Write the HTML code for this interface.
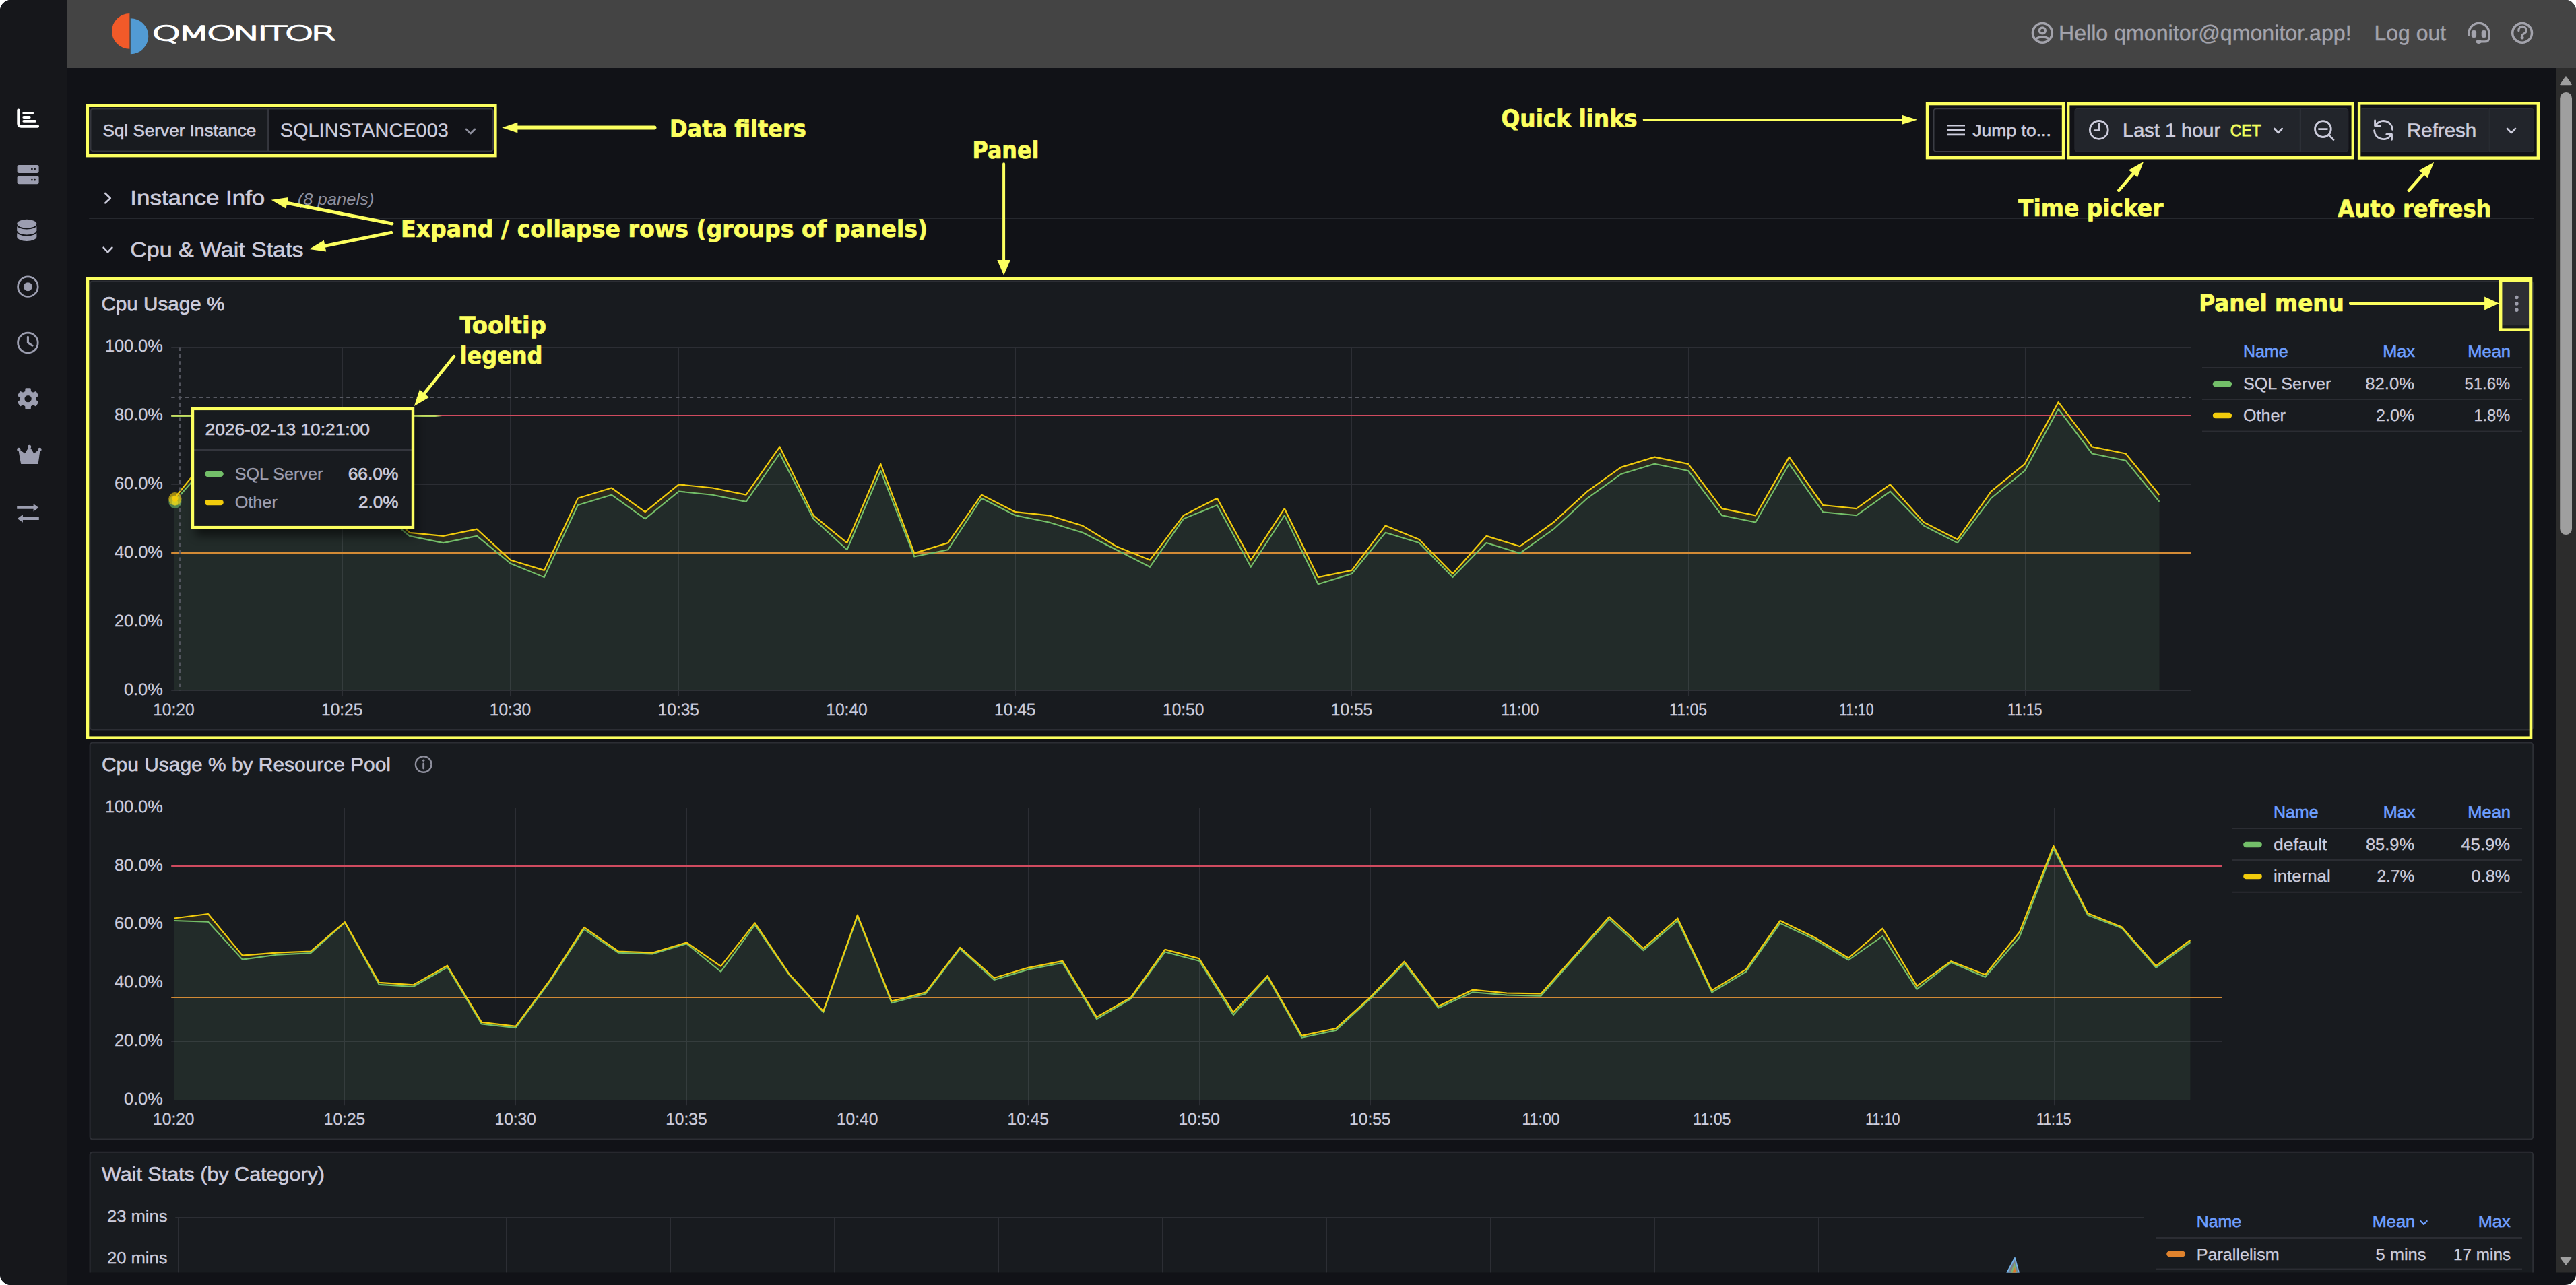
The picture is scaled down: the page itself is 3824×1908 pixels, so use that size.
<!DOCTYPE html>
<html lang="en"><head><meta charset="utf-8"><title>QMonitor - SQL Server Instance dashboard</title>
<style>html,body{margin:0;padding:0;background:#ffffff;}body{width:3824px;height:1908px;overflow:hidden;position:relative;font-family:"Liberation Sans",sans-serif;}</style></head>
<body>
<svg width="3824" height="1908" viewBox="0 0 3824 1908" style="position:absolute;left:0;top:0;display:block" text-rendering="geometricPrecision">
<defs>
<clipPath id="frame"><path d="M16,0 H3808 A16,16 0 0 1 3824,16 V1892 A16,16 0 0 1 3808,1908 H16 A16,16 0 0 1 0,1892 V16 A16,16 0 0 1 16,0 Z"/></clipPath>
<clipPath id="content"><rect x="100" y="101" width="3694" height="1788.5"/></clipPath>
<filter id="tipshadow" x="-10%" y="-10%" width="125%" height="135%"><feGaussianBlur stdDeviation="7"/></filter>
</defs>
<g clip-path="url(#frame)">
<rect x="0.0" y="0.0" width="3824.0" height="1908.0" fill="#111217" />
<rect x="0.0" y="0.0" width="100.0" height="1908.0" fill="#16171b" />
<rect x="100.0" y="0.0" width="3724.0" height="101.0" fill="#444444" />
<path d="M192.4,20 A26.4,26.4 0 0 0 192.4,72.8 Z" fill="#f15a29"/>
<path d="M193.8,27.2 A26.5,26.5 0 0 1 193.8,80.2 Z" fill="#529bd4"/>
<text x="225" y="60" font-family='"DejaVu Sans", sans-serif' font-weight="200" font-size="30.2" textLength="269.5" lengthAdjust="spacingAndGlyphs" letter-spacing="-2.7" fill="#ffffff" stroke="#ffffff" stroke-width="1.55" stroke-linejoin="round">QMONITOR</text>
<g fill="none" stroke="#a3a3ac" stroke-width="3.4"><circle cx="3031.9" cy="48.9" r="14.4" stroke-width="3.6"/><circle cx="3031.9" cy="45.4" r="4.4"/><path d="M3021.6,58.2 Q3026.4,54.7 3031.9,54.7 Q3037.4,54.7 3042.2,58.2"/></g>
<text x="3056.0" y="60.3" font-family='"Liberation Sans", sans-serif' font-size="32" textLength="434.6" lengthAdjust="spacingAndGlyphs" fill="#a3a3ac" stroke="#a3a3ac" stroke-width="0.4" style="" >Hello qmonitor@qmonitor.app!</text>
<text x="3524.5" y="60.3" font-family='"Liberation Sans", sans-serif' font-size="32" textLength="106.5" lengthAdjust="spacingAndGlyphs" fill="#a3a3ac" stroke="#a3a3ac" stroke-width="0.4" style="" >Log out</text>
<g fill="none" stroke="#a3a3ac" stroke-width="3.3" stroke-linecap="round"><path d="M3665,52 V49.3 A14.95,14.95 0 0 1 3694.9,49.3 V55.4 Q3694.9,61.9 3688.4,61.9 H3682"/></g><rect x="3668.8" y="45" width="7.3" height="10.9" rx="3.2" fill="#a3a3ac"/><rect x="3683.7" y="45" width="7.2" height="10.9" rx="3.2" fill="#a3a3ac"/><ellipse cx="3679.6" cy="62.1" rx="4" ry="2.8" fill="#a3a3ac"/>
<circle cx="3744.1" cy="48.9" r="14.4" fill="none" stroke="#a3a3ac" stroke-width="3.5"/>
<path d="M3738.9,45.6 A5.7,5.4 0 1 1 3747.6,49.4 C3745,50.8 3744.1,51.4 3744.1,53" fill="none" stroke="#a3a3ac" stroke-width="3.3" stroke-linecap="round"/>
<circle cx="3744.1" cy="56" r="2.5" fill="#a3a3ac"/>
<g fill="none" stroke="#ffffff" stroke-linecap="round" stroke-linejoin="round"><path d="M27.4,163.5 V183.6 Q27.4,187.6 31.4,187.6 H56" stroke-width="4.2"/><path d="M35.2,168 H48.2 M35.2,174 H43.8 M35.2,179.8 H52.2" stroke-width="3.8"/></g>
<rect x="25.6" y="245.1" width="32.0" height="11.8" fill="#9c9eb0" rx="2.4" />
<circle cx="47.4" cy="251.0" r="1.4" fill="#16171b"/><circle cx="51.6" cy="251.0" r="1.4" fill="#16171b"/>
<rect x="25.6" y="261.2" width="32.0" height="12.0" fill="#9c9eb0" rx="2.4" />
<circle cx="47.4" cy="267.2" r="1.4" fill="#16171b"/><circle cx="51.6" cy="267.2" r="1.4" fill="#16171b"/>
<path d="M25.2,332.3 A14.6,6.5 0 0 1 54.4,332.3 V351.5 A14.6,6.5 0 0 1 25.2,351.5 Z" fill="#9c9eb0"/>
<path d="M24.7,333.0 A15.1,6.5 0 0 0 54.9,333.0" fill="none" stroke="#16171b" stroke-width="1.9"/>
<path d="M24.7,343.0 A15.1,6.5 0 0 0 54.9,343.0" fill="none" stroke="#16171b" stroke-width="1.9"/>
<circle cx="41.4" cy="425.7" r="14.8" fill="none" stroke="#9c9eb0" stroke-width="2.7"/><circle cx="41.4" cy="425.7" r="6.5" fill="#9c9eb0"/>
<circle cx="41.4" cy="509" r="14.8" fill="none" stroke="#9c9eb0" stroke-width="2.8"/><path d="M41.4,500.4 V508.8 L48,513.2" fill="none" stroke="#9c9eb0" stroke-width="3.1" stroke-linecap="round" stroke-linejoin="round"/>
<path d="M38.4,581.8 L38.7,577.4 L44.5,577.4 L44.8,581.8 L49.0,584.2 L52.9,582.3 L55.8,587.2 L52.1,589.7 L52.1,594.5 L55.8,597.0 L52.9,601.9 L49.0,600.0 L44.8,602.4 L44.5,606.8 L38.7,606.8 L38.4,602.4 L34.2,600.0 L30.3,601.9 L27.4,597.0 L31.1,594.5 L31.1,589.7 L27.4,587.2 L30.3,582.3 L34.2,584.2 Z" fill="#9c9eb0" stroke="#9c9eb0" stroke-width="2.5" stroke-linejoin="round"/>
<circle cx="41.6" cy="592.1" r="5.2" fill="#16171b"/>
<path d="M31.6,688.4 L27.85,667.4 L37.1,674.3 L43.6,663.6 L50.3,674.3 L59,667.4 L56.1,688.4 Z" fill="#9c9eb0" stroke="#9c9eb0" stroke-width="1.2" stroke-linejoin="round"/>
<circle cx="27.85" cy="667.4" r="2.6" fill="#9c9eb0"/>
<circle cx="43.6" cy="663.3" r="2.6" fill="#9c9eb0"/>
<circle cx="59" cy="667.4" r="2.6" fill="#9c9eb0"/>
<g fill="#9c9eb0"><path d="M25.2,751.8 H49.6 V748 L57.3,753.8 L49.6,759.6 V755.8 H25.2 Z"/><path d="M57.8,767.9 H33.9 V764.1 L25.75,769.9 L33.9,775.7 V771.9 H57.8 Z"/></g>
<rect x="3794.0" y="101.0" width="30.0" height="1788.5" fill="#2c2c2c" />
<rect x="3800.2" y="137.0" width="17.8" height="657.0" fill="#9f9f9f" rx="8.9" />
<path d="M3801,125.4 L3809,114 L3817,125.4 Z" fill="#9f9f9f" stroke="#9f9f9f" stroke-width="1.5" stroke-linejoin="round"/>
<path d="M3801.4,1867.8 L3809,1877.8 L3816.6,1867.8 Z" fill="#9f9f9f" stroke="#9f9f9f" stroke-width="1.5" stroke-linejoin="round"/>
<g clip-path="url(#content)">
<path d="M138.5,161.4 H397.7 V224.5 H138.5 A4,4 0 0 1 134.5,220.5 V165.4 A4,4 0 0 1 138.5,161.4 Z" fill="#181b1f" stroke="#34363d" stroke-width="2"/>
<path d="M398.4,161.4 H728 A4,4 0 0 1 732,165.4 V220.5 A4,4 0 0 1 728,224.5 H398.4 Z" fill="#111217" stroke="#34363d" stroke-width="2"/>
<text x="152.4" y="201.6" font-family='"Liberation Sans", sans-serif' font-size="24.4" textLength="228.0" lengthAdjust="spacingAndGlyphs" fill="#ccccdc" stroke="#ccccdc" stroke-width="0.6" style="" >Sql Server Instance</text>
<text x="415.8" y="203.1" font-family='"Liberation Sans", sans-serif' font-size="28.4" textLength="250.0" lengthAdjust="spacingAndGlyphs" fill="#ccccdc" stroke="#ccccdc" stroke-width="0.3" style="" >SQLINSTANCE003</text>
<polyline points="692.0,191.8 698.5,198.2 705.0,191.8" fill="none" stroke="#8e8f9d" stroke-width="2.6" stroke-linecap="round" stroke-linejoin="round"/>
<rect x="2870.5" y="161.2" width="192.5" height="63.8" fill="#111217" stroke="#3a3c44" stroke-width="2" rx="4" />
<line x1="2891.0" y1="186.3" x2="2917.0" y2="186.3" stroke="#ccccdc" stroke-width="2.6" />
<line x1="2891.0" y1="193.1" x2="2917.0" y2="193.1" stroke="#ccccdc" stroke-width="2.6" />
<line x1="2891.0" y1="199.9" x2="2917.0" y2="199.9" stroke="#ccccdc" stroke-width="2.6" />
<text x="2928.3" y="201.8" font-family='"Liberation Sans", sans-serif' font-size="24.4" textLength="116.5" lengthAdjust="spacingAndGlyphs" fill="#ccccdc" stroke="#ccccdc" stroke-width="0.6" style="" >Jump to...</text>
<path d="M3084.1,161.4 H3414.3 V225 H3084.1 A4,4 0 0 1 3080.1,221 V165.4 A4,4 0 0 1 3084.1,161.4 Z" fill="#22252b" stroke="#2c2f36" stroke-width="1.2"/>
<path d="M3415.5,161.4 H3481.7 A4,4 0 0 1 3485.7,165.4 V221 A4,4 0 0 1 3481.7,225 H3415.5 Z" fill="#22252b" stroke="#2c2f36" stroke-width="1.2"/>
<circle cx="3115.8" cy="192.9" r="13.4" fill="none" stroke="#ccccdc" stroke-width="2.8"/>
<path d="M3116.4,183.6 V193.6 H3109.2" fill="none" stroke="#ccccdc" stroke-width="2.8" stroke-linecap="round" stroke-linejoin="round"/>
<text x="3151.1" y="203.2" font-family='"Liberation Sans", sans-serif' font-size="28.4" textLength="145.0" lengthAdjust="spacingAndGlyphs" fill="#ccccdc" stroke="#ccccdc" stroke-width="0.6" style="" >Last 1 hour</text>
<text x="3310.7" y="201.8" font-family='"Liberation Sans", sans-serif' font-size="24.4" textLength="46.0" lengthAdjust="spacingAndGlyphs" fill="#f2fd5e" stroke="#f2fd5e" stroke-width="0.9" style="" >CET</text>
<polyline points="3376.3,191.0 3382.0,197.0 3387.7,191.0" fill="none" stroke="#ccccdc" stroke-width="2.7" stroke-linecap="round" stroke-linejoin="round"/>
<circle cx="3448.4" cy="191.6" r="11.9" fill="none" stroke="#ccccdc" stroke-width="2.8"/>
<path d="M3442.2,191.6 H3454.6 M3457,200.4 L3464,207.4" fill="none" stroke="#ccccdc" stroke-width="2.8" stroke-linecap="round"/>
<path d="M3506,161.4 H3693.8 V225 H3506 Z" fill="#22252b" stroke="#2c2f36" stroke-width="1.2"/>
<path d="M3695,161.4 H3757.4 A4,4 0 0 1 3761.4,165.4 V221 A4,4 0 0 1 3757.4,225 H3695 Z" fill="#22252b" stroke="#2c2f36" stroke-width="1.2"/>
<g fill="none" stroke="#ccccdc" stroke-width="2.9" stroke-linecap="round" stroke-linejoin="round"><path d="M3551.6,192.4 A13.5,13.5 0 0 0 3527.6,184.6"/><path d="M3525.6,178.9 V186.7 H3533.4"/><path d="M3524.6,193.8 A13.5,13.5 0 0 0 3548.6,201.6"/><path d="M3550.5,207.3 V199.4 H3542.8"/></g>
<text x="3573.1" y="203.2" font-family='"Liberation Sans", sans-serif' font-size="28.4" textLength="103.0" lengthAdjust="spacingAndGlyphs" fill="#ccccdc" stroke="#ccccdc" stroke-width="0.6" style="" >Refresh</text>
<polyline points="3722.0,190.9 3728.0,197.1 3734.0,190.9" fill="none" stroke="#ccccdc" stroke-width="2.7" stroke-linecap="round" stroke-linejoin="round"/>
<polyline points="156.2,287.0 163.8,294.2 156.2,301.4" fill="none" stroke="#ccccdc" stroke-width="2.6" stroke-linecap="round" stroke-linejoin="round"/>
<text x="193.3" y="304.4" font-family='"Liberation Sans", sans-serif' font-size="30.4" textLength="200.0" lengthAdjust="spacingAndGlyphs" fill="#ccccdc" stroke="#ccccdc" stroke-width="0.6" style="" >Instance Info</text>
<text x="441.8" y="304.0" font-family='"Liberation Sans", sans-serif' font-size="24.4" textLength="113.6" lengthAdjust="spacingAndGlyphs" fill="#8e8f9d" style="font-style:italic;" >(8 panels)</text>
<line x1="132.2" y1="323.9" x2="3761.5" y2="323.9" stroke="#26282e" stroke-width="2" />
<polyline points="153.6,367.7 160.0,374.3 166.4,367.7" fill="none" stroke="#ccccdc" stroke-width="2.6" stroke-linecap="round" stroke-linejoin="round"/>
<text x="193.3" y="381.2" font-family='"Liberation Sans", sans-serif' font-size="30.4" textLength="257.1" lengthAdjust="spacingAndGlyphs" fill="#ccccdc" stroke="#ccccdc" stroke-width="0.6" style="" >Cpu &amp; Wait Stats</text>
<rect x="133.6" y="417.4" width="3626.6" height="666.2" fill="#181b1f" stroke="#2c2e34" stroke-width="2" rx="4" />
<text x="150.4" y="461.0" font-family='"Liberation Sans", sans-serif' font-size="28.4" textLength="183.0" lengthAdjust="spacingAndGlyphs" fill="#ccccdc" stroke="#ccccdc" stroke-width="0.6" style="" >Cpu Usage %</text>
<polygon points="258.4,1025.3 258.4,745.4 308.3,688.8 358.3,709.2 408.2,724.5 458.2,729.6 508.1,739.8 558.1,755.1 608.0,795.9 658.0,806.1 708.0,795.9 757.9,836.7 807.9,857.1 857.8,750.0 907.8,734.7 957.7,770.4 1007.6,729.6 1057.6,734.7 1107.6,744.9 1157.5,673.5 1207.5,770.4 1257.4,816.3 1307.3,699.0 1357.3,826.5 1407.2,816.3 1457.2,739.8 1507.2,765.3 1557.1,775.5 1607.1,790.8 1657.0,816.3 1707.0,841.8 1756.9,770.4 1806.8,750.0 1856.8,841.8 1906.8,765.3 1956.7,867.3 2006.7,852.0 2056.6,790.8 2106.6,806.1 2156.5,857.1 2206.5,806.1 2256.4,821.4 2306.3,785.7 2356.3,739.8 2406.2,704.1 2456.2,688.8 2506.2,699.0 2556.1,765.3 2606.1,775.5 2656.0,688.8 2706.0,760.2 2755.9,765.3 2805.9,729.6 2855.8,780.6 2905.8,806.1 2955.7,739.8 3005.7,699.0 3055.6,607.3 3105.6,673.5 3155.5,683.7 3205.5,744.9 3205.5,1025.3" fill="#222b29"/>
<polygon points="258.4,745.4 308.3,688.8 358.3,709.2 408.2,724.5 458.2,729.6 508.1,739.8 558.1,755.1 608.0,795.9 658.0,806.1 708.0,795.9 757.9,836.7 807.9,857.1 857.8,750.0 907.8,734.7 957.7,770.4 1007.6,729.6 1057.6,734.7 1107.6,744.9 1157.5,673.5 1207.5,770.4 1257.4,816.3 1307.3,699.0 1357.3,826.5 1407.2,816.3 1457.2,739.8 1507.2,765.3 1557.1,775.5 1607.1,790.8 1657.0,816.3 1707.0,841.8 1756.9,770.4 1806.8,750.0 1856.8,841.8 1906.8,765.3 1956.7,867.3 2006.7,852.0 2056.6,790.8 2106.6,806.1 2156.5,857.1 2206.5,806.1 2256.4,821.4 2306.3,785.7 2356.3,739.8 2406.2,704.1 2456.2,688.8 2506.2,699.0 2556.1,765.3 2606.1,775.5 2656.0,688.8 2706.0,760.2 2755.9,765.3 2805.9,729.6 2855.8,780.6 2905.8,806.1 2955.7,739.8 3005.7,699.0 3055.6,607.3 3105.6,673.5 3155.5,683.7 3205.5,744.9 3205.5,734.7 3155.5,673.5 3105.6,663.3 3055.6,597.1 3005.7,688.8 2955.7,729.6 2905.8,801.0 2855.8,775.5 2805.9,719.4 2755.9,755.1 2706.0,750.0 2656.0,678.6 2606.1,765.3 2556.1,755.1 2506.2,688.8 2456.2,678.6 2406.2,693.9 2356.3,729.6 2306.3,775.5 2256.4,811.2 2206.5,795.9 2156.5,852.0 2106.6,801.0 2056.6,780.6 2006.7,846.9 1956.7,857.1 1906.8,755.1 1856.8,831.6 1806.8,739.8 1756.9,765.3 1707.0,831.6 1657.0,811.2 1607.1,780.6 1557.1,765.3 1507.2,760.2 1457.2,734.7 1407.2,806.1 1357.3,821.4 1307.3,688.8 1257.4,806.1 1207.5,765.3 1157.5,663.3 1107.6,734.7 1057.6,724.5 1007.6,719.4 957.7,760.2 907.8,724.5 857.8,739.8 807.9,846.9 757.9,831.6 708.0,785.7 658.0,795.9 608.0,790.8 558.1,744.9 508.1,729.6 458.2,719.4 408.2,714.3 358.3,699.0 308.3,678.6 258.4,740.6" fill="#2d2b1f"/>
<path d="M254.2,1025.5 H3252.6 M254.2,923.5 H3252.6 M254.2,821.5 H3252.6 M254.2,719.5 H3252.6 M254.2,617.5 H3252.6 M254.2,515.5 H3252.6 M258.5,515.0 V1033.3 M508.5,515.0 V1033.3 M757.5,515.0 V1033.3 M1007.5,515.0 V1033.3 M1257.5,515.0 V1033.3 M1507.5,515.0 V1033.3 M1757.5,515.0 V1033.3 M2006.5,515.0 V1033.3 M2256.5,515.0 V1033.3 M2506.5,515.0 V1033.3 M2756.5,515.0 V1033.3 M3006.5,515.0 V1033.3" fill="none" stroke="rgba(204,204,220,0.115)" stroke-width="1.15"/>
<line x1="254.2" y1="617.0" x2="3252.6" y2="617.0" stroke="#cf4b5f" stroke-width="2.1" />
<line x1="254.2" y1="821.0" x2="3252.6" y2="821.0" stroke="#d28a35" stroke-width="2.1" />
<polyline points="258.4,745.4 308.3,688.8 358.3,709.2 408.2,724.5 458.2,729.6 508.1,739.8 558.1,755.1 608.0,795.9 658.0,806.1 708.0,795.9 757.9,836.7 807.9,857.1 857.8,750.0 907.8,734.7 957.7,770.4 1007.6,729.6 1057.6,734.7 1107.6,744.9 1157.5,673.5 1207.5,770.4 1257.4,816.3 1307.3,699.0 1357.3,826.5 1407.2,816.3 1457.2,739.8 1507.2,765.3 1557.1,775.5 1607.1,790.8 1657.0,816.3 1707.0,841.8 1756.9,770.4 1806.8,750.0 1856.8,841.8 1906.8,765.3 1956.7,867.3 2006.7,852.0 2056.6,790.8 2106.6,806.1 2156.5,857.1 2206.5,806.1 2256.4,821.4 2306.3,785.7 2356.3,739.8 2406.2,704.1 2456.2,688.8 2506.2,699.0 2556.1,765.3 2606.1,775.5 2656.0,688.8 2706.0,760.2 2755.9,765.3 2805.9,729.6 2855.8,780.6 2905.8,806.1 2955.7,739.8 3005.7,699.0 3055.6,607.3 3105.6,673.5 3155.5,683.7 3205.5,744.9" fill="none" stroke="#73bf69" stroke-width="2.1" stroke-linejoin="round"/>
<polyline points="258.4,740.6 308.3,678.6 358.3,699.0 408.2,714.3 458.2,719.4 508.1,729.6 558.1,744.9 608.0,790.8 658.0,795.9 708.0,785.7 757.9,831.6 807.9,846.9 857.8,739.8 907.8,724.5 957.7,760.2 1007.6,719.4 1057.6,724.5 1107.6,734.7 1157.5,663.3 1207.5,765.3 1257.4,806.1 1307.3,688.8 1357.3,821.4 1407.2,806.1 1457.2,734.7 1507.2,760.2 1557.1,765.3 1607.1,780.6 1657.0,811.2 1707.0,831.6 1756.9,765.3 1806.8,739.8 1856.8,831.6 1906.8,755.1 1956.7,857.1 2006.7,846.9 2056.6,780.6 2106.6,801.0 2156.5,852.0 2206.5,795.9 2256.4,811.2 2306.3,775.5 2356.3,729.6 2406.2,693.9 2456.2,678.6 2506.2,688.8 2556.1,755.1 2606.1,765.3 2656.0,678.6 2706.0,750.0 2755.9,755.1 2805.9,719.4 2855.8,775.5 2905.8,801.0 2955.7,729.6 3005.7,688.8 3055.6,597.1 3105.6,663.3 3155.5,673.5 3205.5,734.7" fill="none" stroke="#f2cc0c" stroke-width="2.2" stroke-linejoin="round"/>
<text x="184.0" y="1031.7" font-family='"Liberation Sans", sans-serif' font-size="25" textLength="57.7" lengthAdjust="spacingAndGlyphs" fill="#ccccdc" stroke="#ccccdc" stroke-width="0.3" style="" >0.0%</text>
<text x="170.0" y="929.7" font-family='"Liberation Sans", sans-serif' font-size="25" textLength="71.7" lengthAdjust="spacingAndGlyphs" fill="#ccccdc" stroke="#ccccdc" stroke-width="0.3" style="" >20.0%</text>
<text x="170.0" y="827.8" font-family='"Liberation Sans", sans-serif' font-size="25" textLength="71.7" lengthAdjust="spacingAndGlyphs" fill="#ccccdc" stroke="#ccccdc" stroke-width="0.3" style="" >40.0%</text>
<text x="170.0" y="725.8" font-family='"Liberation Sans", sans-serif' font-size="25" textLength="71.7" lengthAdjust="spacingAndGlyphs" fill="#ccccdc" stroke="#ccccdc" stroke-width="0.3" style="" >60.0%</text>
<text x="170.0" y="623.9" font-family='"Liberation Sans", sans-serif' font-size="25" textLength="71.7" lengthAdjust="spacingAndGlyphs" fill="#ccccdc" stroke="#ccccdc" stroke-width="0.3" style="" >80.0%</text>
<text x="155.9" y="521.9" font-family='"Liberation Sans", sans-serif' font-size="25" textLength="85.8" lengthAdjust="spacingAndGlyphs" fill="#ccccdc" stroke="#ccccdc" stroke-width="0.3" style="" >100.0%</text>
<text x="227.2" y="1062.0" font-family='"Liberation Sans", sans-serif' font-size="25" textLength="61.4" lengthAdjust="spacingAndGlyphs" fill="#ccccdc" stroke="#ccccdc" stroke-width="0.3" style="" >10:20</text>
<text x="477.0" y="1062.0" font-family='"Liberation Sans", sans-serif' font-size="25" textLength="61.4" lengthAdjust="spacingAndGlyphs" fill="#ccccdc" stroke="#ccccdc" stroke-width="0.3" style="" >10:25</text>
<text x="726.8" y="1062.0" font-family='"Liberation Sans", sans-serif' font-size="25" textLength="61.4" lengthAdjust="spacingAndGlyphs" fill="#ccccdc" stroke="#ccccdc" stroke-width="0.3" style="" >10:30</text>
<text x="976.6" y="1062.0" font-family='"Liberation Sans", sans-serif' font-size="25" textLength="61.4" lengthAdjust="spacingAndGlyphs" fill="#ccccdc" stroke="#ccccdc" stroke-width="0.3" style="" >10:35</text>
<text x="1226.3" y="1062.0" font-family='"Liberation Sans", sans-serif' font-size="25" textLength="61.4" lengthAdjust="spacingAndGlyphs" fill="#ccccdc" stroke="#ccccdc" stroke-width="0.3" style="" >10:40</text>
<text x="1476.1" y="1062.0" font-family='"Liberation Sans", sans-serif' font-size="25" textLength="61.4" lengthAdjust="spacingAndGlyphs" fill="#ccccdc" stroke="#ccccdc" stroke-width="0.3" style="" >10:45</text>
<text x="1726.0" y="1062.0" font-family='"Liberation Sans", sans-serif' font-size="25" textLength="61.4" lengthAdjust="spacingAndGlyphs" fill="#ccccdc" stroke="#ccccdc" stroke-width="0.3" style="" >10:50</text>
<text x="1975.8" y="1062.0" font-family='"Liberation Sans", sans-serif' font-size="25" textLength="61.4" lengthAdjust="spacingAndGlyphs" fill="#ccccdc" stroke="#ccccdc" stroke-width="0.3" style="" >10:55</text>
<text x="2228.3" y="1062.0" font-family='"Liberation Sans", sans-serif' font-size="25" textLength="56.0" lengthAdjust="spacingAndGlyphs" fill="#ccccdc" stroke="#ccccdc" stroke-width="0.3" style="" >11:00</text>
<text x="2478.1" y="1062.0" font-family='"Liberation Sans", sans-serif' font-size="25" textLength="56.0" lengthAdjust="spacingAndGlyphs" fill="#ccccdc" stroke="#ccccdc" stroke-width="0.3" style="" >11:05</text>
<text x="2730.2" y="1062.0" font-family='"Liberation Sans", sans-serif' font-size="25" textLength="51.3" lengthAdjust="spacingAndGlyphs" fill="#ccccdc" stroke="#ccccdc" stroke-width="0.3" style="" >11:10</text>
<text x="2980.1" y="1062.0" font-family='"Liberation Sans", sans-serif' font-size="25" textLength="51.3" lengthAdjust="spacingAndGlyphs" fill="#ccccdc" stroke="#ccccdc" stroke-width="0.3" style="" >11:15</text>
<linearGradient id="hl" x1="0" x2="1" y1="0" y2="0"><stop offset="0" stop-color="#ccff68"/><stop offset="0.975" stop-color="#ccff68"/><stop offset="1" stop-color="#ccff68" stop-opacity="0"/></linearGradient>
<rect x="254.2" y="616.2" width="402" height="2.6" fill="url(#hl)"/>
<line x1="267.0" y1="515.5" x2="267.0" y2="1025.3" stroke="#575962" stroke-width="1.8" stroke-dasharray="5.4 5"/>
<line x1="254.2" y1="590.0" x2="3252.6" y2="590.0" stroke="#575962" stroke-width="1.8" stroke-dasharray="5.4 5"/>
<circle cx="259.9" cy="745.2" r="9.6" fill="#73bf69" fill-opacity="0.6"/>
<circle cx="259.9" cy="746" r="4.4" fill="#a6cf4a"/>
<circle cx="259.9" cy="740.8" r="9.7" fill="#f2cc0c" fill-opacity="0.62"/>
<circle cx="259.9" cy="740.5" r="4.5" fill="#f2cc0c"/>
<text x="3330.0" y="529.8" font-family='"Liberation Sans", sans-serif' font-size="24.4" textLength="66.5" lengthAdjust="spacingAndGlyphs" fill="#6e9fff" stroke="#6e9fff" stroke-width="0.6" style="" >Name</text>
<text x="3537.3" y="529.8" font-family='"Liberation Sans", sans-serif' font-size="24.4" textLength="47.7" lengthAdjust="spacingAndGlyphs" fill="#6e9fff" stroke="#6e9fff" stroke-width="0.6" style="" >Max</text>
<text x="3663.3" y="529.8" font-family='"Liberation Sans", sans-serif' font-size="24.4" textLength="63.7" lengthAdjust="spacingAndGlyphs" fill="#6e9fff" stroke="#6e9fff" stroke-width="0.6" style="" >Mean</text>
<line x1="3269.0" y1="546.0" x2="3744.0" y2="546.0" stroke="#2b2d33" stroke-width="2" />
<line x1="3269.0" y1="593.0" x2="3744.0" y2="593.0" stroke="#2b2d33" stroke-width="2" />
<line x1="3269.0" y1="640.5" x2="3744.0" y2="640.5" stroke="#2b2d33" stroke-width="2" />
<rect x="3284.8" y="566.0" width="28.3" height="8.4" fill="#73bf69" rx="4.2" />
<text x="3330.0" y="578.0" font-family='"Liberation Sans", sans-serif' font-size="24.4" textLength="130.4" lengthAdjust="spacingAndGlyphs" fill="#ccccdc" stroke="#ccccdc" stroke-width="0.3" style="" >SQL Server</text>
<text x="3511.3" y="578.0" font-family='"Liberation Sans", sans-serif' font-size="24.4" textLength="72.7" lengthAdjust="spacingAndGlyphs" fill="#ccccdc" stroke="#ccccdc" stroke-width="0.3" style="" >82.0%</text>
<text x="3658.6" y="578.0" font-family='"Liberation Sans", sans-serif' font-size="24.4" textLength="67.6" lengthAdjust="spacingAndGlyphs" fill="#ccccdc" stroke="#ccccdc" stroke-width="0.3" style="" >51.6%</text>
<rect x="3284.8" y="612.8" width="28.3" height="8.4" fill="#f2cc0c" rx="4.2" />
<text x="3330.0" y="624.8" font-family='"Liberation Sans", sans-serif' font-size="24.4" textLength="63.0" lengthAdjust="spacingAndGlyphs" fill="#ccccdc" stroke="#ccccdc" stroke-width="0.3" style="" >Other</text>
<text x="3527.1" y="624.8" font-family='"Liberation Sans", sans-serif' font-size="24.4" textLength="56.9" lengthAdjust="spacingAndGlyphs" fill="#ccccdc" stroke="#ccccdc" stroke-width="0.3" style="" >2.0%</text>
<text x="3672.4" y="624.8" font-family='"Liberation Sans", sans-serif' font-size="24.4" textLength="53.8" lengthAdjust="spacingAndGlyphs" fill="#ccccdc" stroke="#ccccdc" stroke-width="0.3" style="" >1.8%</text>
<path d="M3714,418 H3755 V483.2 H3714 Z" fill="#2d2e34"/>
<circle cx="3735.9" cy="441.6" r="2.75" fill="#9c9dab"/>
<circle cx="3735.9" cy="451" r="2.75" fill="#9c9dab"/>
<circle cx="3735.9" cy="460.3" r="2.75" fill="#9c9dab"/>
<rect x="290" y="616" width="328" height="180" rx="4" fill="#000" opacity="0.55" filter="url(#tipshadow)"/>
<rect x="286.0" y="607.0" width="327.0" height="176.0" fill="#181b1f" />
<line x1="288.0" y1="668.1" x2="611.0" y2="668.1" stroke="#34363d" stroke-width="2" />
<text x="304.6" y="646.4" font-family='"Liberation Sans", sans-serif' font-size="24.4" textLength="244.3" lengthAdjust="spacingAndGlyphs" fill="#ccccdc" stroke="#ccccdc" stroke-width="0.6" style="" >2026-02-13 10:21:00</text>
<rect x="304.0" y="699.7" width="27.8" height="8.4" fill="#73bf69" rx="4.2" />
<text x="348.7" y="711.7" font-family='"Liberation Sans", sans-serif' font-size="24.4" textLength="130.8" lengthAdjust="spacingAndGlyphs" fill="#9d9eae" stroke="#9d9eae" stroke-width="0.3" style="" >SQL Server</text>
<text x="516.7" y="711.7" font-family='"Liberation Sans", sans-serif' font-size="24.4" textLength="74.7" lengthAdjust="spacingAndGlyphs" fill="#ccccdc" stroke="#ccccdc" stroke-width="0.6" style="" >66.0%</text>
<rect x="304.0" y="741.9" width="27.8" height="8.4" fill="#f2cc0c" rx="4.2" />
<text x="348.7" y="754.0" font-family='"Liberation Sans", sans-serif' font-size="24.4" textLength="63.2" lengthAdjust="spacingAndGlyphs" fill="#9d9eae" stroke="#9d9eae" stroke-width="0.3" style="" >Other</text>
<text x="532.0" y="754.0" font-family='"Liberation Sans", sans-serif' font-size="24.4" textLength="59.4" lengthAdjust="spacingAndGlyphs" fill="#ccccdc" stroke="#ccccdc" stroke-width="0.6" style="" >2.0%</text>
<rect x="133.6" y="1102.6" width="3626.6" height="589.0" fill="#181b1f" stroke="#2c2e34" stroke-width="2" rx="4" />
<text x="151.0" y="1144.6" font-family='"Liberation Sans", sans-serif' font-size="28.4" textLength="429.0" lengthAdjust="spacingAndGlyphs" fill="#ccccdc" stroke="#ccccdc" stroke-width="0.6" style="" >Cpu Usage % by Resource Pool</text>
<circle cx="628.7" cy="1135" r="11.8" fill="none" stroke="#8e8f9d" stroke-width="2.4"/><path d="M628.7,1134 V1141" stroke="#8e8f9d" stroke-width="2.8" stroke-linecap="round"/><circle cx="628.7" cy="1129.2" r="1.7" fill="#8e8f9d"/>
<polygon points="258.3,1633.2 258.3,1367.0 309.0,1368.7 359.8,1424.6 410.5,1417.7 461.2,1415.1 511.9,1370.0 562.7,1461.9 613.4,1465.0 664.1,1436.3 714.9,1520.5 765.6,1526.1 816.3,1457.6 867.1,1380.0 917.8,1414.7 968.5,1416.4 1019.2,1401.2 1070.0,1442.8 1120.7,1373.5 1171.4,1447.2 1222.2,1503.1 1272.9,1360.9 1323.6,1489.2 1374.4,1475.4 1425.1,1409.0 1475.8,1455.0 1526.5,1439.4 1577.3,1429.8 1628.0,1513.1 1678.7,1483.2 1729.5,1413.4 1780.2,1426.8 1830.9,1507.0 1881.7,1451.1 1932.4,1540.8 1983.1,1530.0 2033.8,1483.2 2084.6,1430.7 2135.3,1496.6 2186.0,1473.2 2236.8,1477.5 2287.5,1478.8 2338.2,1421.2 2389.0,1364.8 2439.7,1411.2 2490.4,1367.0 2541.2,1473.6 2591.9,1442.8 2642.6,1370.9 2693.3,1394.7 2744.1,1425.5 2794.8,1390.0 2845.5,1468.9 2896.3,1429.0 2947.0,1450.7 2997.7,1391.7 3048.4,1260.3 3099.2,1358.7 3149.9,1378.2 3200.6,1436.8 3251.4,1399.1 3251.4,1633.2" fill="#222b29"/>
<polygon points="258.3,1367.0 309.0,1368.7 359.8,1424.6 410.5,1417.7 461.2,1415.1 511.9,1370.0 562.7,1461.9 613.4,1465.0 664.1,1436.3 714.9,1520.5 765.6,1526.1 816.3,1457.6 867.1,1380.0 917.8,1414.7 968.5,1416.4 1019.2,1401.2 1070.0,1442.8 1120.7,1373.5 1171.4,1447.2 1222.2,1503.1 1272.9,1360.9 1323.6,1489.2 1374.4,1475.4 1425.1,1409.0 1475.8,1455.0 1526.5,1439.4 1577.3,1429.8 1628.0,1513.1 1678.7,1483.2 1729.5,1413.4 1780.2,1426.8 1830.9,1507.0 1881.7,1451.1 1932.4,1540.8 1983.1,1530.0 2033.8,1483.2 2084.6,1430.7 2135.3,1496.6 2186.0,1473.2 2236.8,1477.5 2287.5,1478.8 2338.2,1421.2 2389.0,1364.8 2439.7,1411.2 2490.4,1367.0 2541.2,1473.6 2591.9,1442.8 2642.6,1370.9 2693.3,1394.7 2744.1,1425.5 2794.8,1390.0 2845.5,1468.9 2896.3,1429.0 2947.0,1450.7 2997.7,1391.7 3048.4,1260.3 3099.2,1358.7 3149.9,1378.2 3200.6,1436.8 3251.4,1399.1 3251.4,1396.0 3200.6,1434.2 3149.9,1376.5 3099.2,1356.1 3048.4,1256.0 2997.7,1384.3 2947.0,1447.2 2896.3,1427.2 2845.5,1464.1 2794.8,1378.7 2744.1,1422.5 2693.3,1391.7 2642.6,1367.0 2591.9,1439.4 2541.2,1470.6 2490.4,1363.5 2439.7,1408.2 2389.0,1361.3 2338.2,1418.6 2287.5,1475.4 2236.8,1474.5 2186.0,1469.7 2135.3,1494.0 2084.6,1427.7 2033.8,1481.0 1983.1,1527.0 1932.4,1537.8 1881.7,1448.9 1830.9,1503.1 1780.2,1423.3 1729.5,1409.9 1678.7,1481.0 1628.0,1510.1 1577.3,1426.8 1526.5,1436.8 1475.8,1452.0 1425.1,1406.9 1374.4,1473.2 1323.6,1486.6 1272.9,1358.7 1222.2,1501.4 1171.4,1445.9 1120.7,1370.4 1070.0,1434.6 1019.2,1399.5 968.5,1414.7 917.8,1412.5 867.1,1376.9 816.3,1455.4 765.6,1523.9 714.9,1517.9 664.1,1433.7 613.4,1462.4 562.7,1458.9 511.9,1369.1 461.2,1412.5 410.5,1414.7 359.8,1418.6 309.0,1357.0 258.3,1363.5" fill="#2d2b1f"/>
<path d="M254.2,1633.5 H3298.2 M254.2,1546.5 H3298.2 M254.2,1459.5 H3298.2 M254.2,1373.5 H3298.2 M254.2,1286.5 H3298.2 M254.2,1199.5 H3298.2 M258.5,1199.0 V1641.2 M511.5,1199.0 V1641.2 M765.5,1199.0 V1641.2 M1019.5,1199.0 V1641.2 M1273.5,1199.0 V1641.2 M1526.5,1199.0 V1641.2 M1780.5,1199.0 V1641.2 M2034.5,1199.0 V1641.2 M2287.5,1199.0 V1641.2 M2541.5,1199.0 V1641.2 M2795.5,1199.0 V1641.2 M3049.5,1199.0 V1641.2" fill="none" stroke="rgba(204,204,220,0.115)" stroke-width="1.15"/>
<line x1="254.2" y1="1286.0" x2="3298.2" y2="1286.0" stroke="#cf4b5f" stroke-width="2.1" />
<line x1="254.2" y1="1481.0" x2="3298.2" y2="1481.0" stroke="#d28a35" stroke-width="2.1" />
<polyline points="258.3,1367.0 309.0,1368.7 359.8,1424.6 410.5,1417.7 461.2,1415.1 511.9,1370.0 562.7,1461.9 613.4,1465.0 664.1,1436.3 714.9,1520.5 765.6,1526.1 816.3,1457.6 867.1,1380.0 917.8,1414.7 968.5,1416.4 1019.2,1401.2 1070.0,1442.8 1120.7,1373.5 1171.4,1447.2 1222.2,1503.1 1272.9,1360.9 1323.6,1489.2 1374.4,1475.4 1425.1,1409.0 1475.8,1455.0 1526.5,1439.4 1577.3,1429.8 1628.0,1513.1 1678.7,1483.2 1729.5,1413.4 1780.2,1426.8 1830.9,1507.0 1881.7,1451.1 1932.4,1540.8 1983.1,1530.0 2033.8,1483.2 2084.6,1430.7 2135.3,1496.6 2186.0,1473.2 2236.8,1477.5 2287.5,1478.8 2338.2,1421.2 2389.0,1364.8 2439.7,1411.2 2490.4,1367.0 2541.2,1473.6 2591.9,1442.8 2642.6,1370.9 2693.3,1394.7 2744.1,1425.5 2794.8,1390.0 2845.5,1468.9 2896.3,1429.0 2947.0,1450.7 2997.7,1391.7 3048.4,1260.3 3099.2,1358.7 3149.9,1378.2 3200.6,1436.8 3251.4,1399.1" fill="none" stroke="#73bf69" stroke-width="2.1" stroke-linejoin="round"/>
<polyline points="258.3,1363.5 309.0,1357.0 359.8,1418.6 410.5,1414.7 461.2,1412.5 511.9,1369.1 562.7,1458.9 613.4,1462.4 664.1,1433.7 714.9,1517.9 765.6,1523.9 816.3,1455.4 867.1,1376.9 917.8,1412.5 968.5,1414.7 1019.2,1399.5 1070.0,1434.6 1120.7,1370.4 1171.4,1445.9 1222.2,1501.4 1272.9,1358.7 1323.6,1486.6 1374.4,1473.2 1425.1,1406.9 1475.8,1452.0 1526.5,1436.8 1577.3,1426.8 1628.0,1510.1 1678.7,1481.0 1729.5,1409.9 1780.2,1423.3 1830.9,1503.1 1881.7,1448.9 1932.4,1537.8 1983.1,1527.0 2033.8,1481.0 2084.6,1427.7 2135.3,1494.0 2186.0,1469.7 2236.8,1474.5 2287.5,1475.4 2338.2,1418.6 2389.0,1361.3 2439.7,1408.2 2490.4,1363.5 2541.2,1470.6 2591.9,1439.4 2642.6,1367.0 2693.3,1391.7 2744.1,1422.5 2794.8,1378.7 2845.5,1464.1 2896.3,1427.2 2947.0,1447.2 2997.7,1384.3 3048.4,1256.0 3099.2,1356.1 3149.9,1376.5 3200.6,1434.2 3251.4,1396.0" fill="none" stroke="#f2cc0c" stroke-width="2.2" stroke-linejoin="round"/>
<text x="184.0" y="1639.6" font-family='"Liberation Sans", sans-serif' font-size="25" textLength="57.7" lengthAdjust="spacingAndGlyphs" fill="#ccccdc" stroke="#ccccdc" stroke-width="0.3" style="" >0.0%</text>
<text x="170.0" y="1552.9" font-family='"Liberation Sans", sans-serif' font-size="25" textLength="71.7" lengthAdjust="spacingAndGlyphs" fill="#ccccdc" stroke="#ccccdc" stroke-width="0.3" style="" >20.0%</text>
<text x="170.0" y="1466.2" font-family='"Liberation Sans", sans-serif' font-size="25" textLength="71.7" lengthAdjust="spacingAndGlyphs" fill="#ccccdc" stroke="#ccccdc" stroke-width="0.3" style="" >40.0%</text>
<text x="170.0" y="1379.4" font-family='"Liberation Sans", sans-serif' font-size="25" textLength="71.7" lengthAdjust="spacingAndGlyphs" fill="#ccccdc" stroke="#ccccdc" stroke-width="0.3" style="" >60.0%</text>
<text x="170.0" y="1292.7" font-family='"Liberation Sans", sans-serif' font-size="25" textLength="71.7" lengthAdjust="spacingAndGlyphs" fill="#ccccdc" stroke="#ccccdc" stroke-width="0.3" style="" >80.0%</text>
<text x="155.9" y="1206.0" font-family='"Liberation Sans", sans-serif' font-size="25" textLength="85.8" lengthAdjust="spacingAndGlyphs" fill="#ccccdc" stroke="#ccccdc" stroke-width="0.3" style="" >100.0%</text>
<text x="227.1" y="1670.2" font-family='"Liberation Sans", sans-serif' font-size="25" textLength="61.4" lengthAdjust="spacingAndGlyphs" fill="#ccccdc" stroke="#ccccdc" stroke-width="0.3" style="" >10:20</text>
<text x="480.8" y="1670.2" font-family='"Liberation Sans", sans-serif' font-size="25" textLength="61.4" lengthAdjust="spacingAndGlyphs" fill="#ccccdc" stroke="#ccccdc" stroke-width="0.3" style="" >10:25</text>
<text x="734.5" y="1670.2" font-family='"Liberation Sans", sans-serif' font-size="25" textLength="61.4" lengthAdjust="spacingAndGlyphs" fill="#ccccdc" stroke="#ccccdc" stroke-width="0.3" style="" >10:30</text>
<text x="988.2" y="1670.2" font-family='"Liberation Sans", sans-serif' font-size="25" textLength="61.4" lengthAdjust="spacingAndGlyphs" fill="#ccccdc" stroke="#ccccdc" stroke-width="0.3" style="" >10:35</text>
<text x="1241.9" y="1670.2" font-family='"Liberation Sans", sans-serif' font-size="25" textLength="61.4" lengthAdjust="spacingAndGlyphs" fill="#ccccdc" stroke="#ccccdc" stroke-width="0.3" style="" >10:40</text>
<text x="1495.6" y="1670.2" font-family='"Liberation Sans", sans-serif' font-size="25" textLength="61.4" lengthAdjust="spacingAndGlyphs" fill="#ccccdc" stroke="#ccccdc" stroke-width="0.3" style="" >10:45</text>
<text x="1749.4" y="1670.2" font-family='"Liberation Sans", sans-serif' font-size="25" textLength="61.4" lengthAdjust="spacingAndGlyphs" fill="#ccccdc" stroke="#ccccdc" stroke-width="0.3" style="" >10:50</text>
<text x="2003.1" y="1670.2" font-family='"Liberation Sans", sans-serif' font-size="25" textLength="61.4" lengthAdjust="spacingAndGlyphs" fill="#ccccdc" stroke="#ccccdc" stroke-width="0.3" style="" >10:55</text>
<text x="2259.6" y="1670.2" font-family='"Liberation Sans", sans-serif' font-size="25" textLength="56.0" lengthAdjust="spacingAndGlyphs" fill="#ccccdc" stroke="#ccccdc" stroke-width="0.3" style="" >11:00</text>
<text x="2513.3" y="1670.2" font-family='"Liberation Sans", sans-serif' font-size="25" textLength="56.0" lengthAdjust="spacingAndGlyphs" fill="#ccccdc" stroke="#ccccdc" stroke-width="0.3" style="" >11:05</text>
<text x="2769.3" y="1670.2" font-family='"Liberation Sans", sans-serif' font-size="25" textLength="51.3" lengthAdjust="spacingAndGlyphs" fill="#ccccdc" stroke="#ccccdc" stroke-width="0.3" style="" >11:10</text>
<text x="3023.1" y="1670.2" font-family='"Liberation Sans", sans-serif' font-size="25" textLength="51.3" lengthAdjust="spacingAndGlyphs" fill="#ccccdc" stroke="#ccccdc" stroke-width="0.3" style="" >11:15</text>
<text x="3375.0" y="1213.6" font-family='"Liberation Sans", sans-serif' font-size="24.4" textLength="66.5" lengthAdjust="spacingAndGlyphs" fill="#6e9fff" stroke="#6e9fff" stroke-width="0.6" style="" >Name</text>
<text x="3537.7" y="1213.6" font-family='"Liberation Sans", sans-serif' font-size="24.4" textLength="47.7" lengthAdjust="spacingAndGlyphs" fill="#6e9fff" stroke="#6e9fff" stroke-width="0.6" style="" >Max</text>
<text x="3663.3" y="1213.6" font-family='"Liberation Sans", sans-serif' font-size="24.4" textLength="63.7" lengthAdjust="spacingAndGlyphs" fill="#6e9fff" stroke="#6e9fff" stroke-width="0.6" style="" >Mean</text>
<line x1="3314.0" y1="1230.1" x2="3744.0" y2="1230.1" stroke="#2b2d33" stroke-width="2" />
<line x1="3314.0" y1="1277.0" x2="3744.0" y2="1277.0" stroke="#2b2d33" stroke-width="2" />
<line x1="3314.0" y1="1324.7" x2="3744.0" y2="1324.7" stroke="#2b2d33" stroke-width="2" />
<rect x="3330.1" y="1249.8" width="27.8" height="8.4" fill="#73bf69" rx="4.2" />
<text x="3375.0" y="1261.9" font-family='"Liberation Sans", sans-serif' font-size="24.4" textLength="79.4" lengthAdjust="spacingAndGlyphs" fill="#ccccdc" stroke="#ccccdc" stroke-width="0.3" style="" >default</text>
<text x="3511.9" y="1261.9" font-family='"Liberation Sans", sans-serif' font-size="24.4" textLength="72.3" lengthAdjust="spacingAndGlyphs" fill="#ccccdc" stroke="#ccccdc" stroke-width="0.3" style="" >85.9%</text>
<text x="3653.3" y="1261.9" font-family='"Liberation Sans", sans-serif' font-size="24.4" textLength="72.9" lengthAdjust="spacingAndGlyphs" fill="#ccccdc" stroke="#ccccdc" stroke-width="0.3" style="" >45.9%</text>
<rect x="3330.1" y="1296.9" width="27.8" height="8.4" fill="#f2cc0c" rx="4.2" />
<text x="3375.0" y="1309.0" font-family='"Liberation Sans", sans-serif' font-size="24.4" textLength="84.7" lengthAdjust="spacingAndGlyphs" fill="#ccccdc" stroke="#ccccdc" stroke-width="0.3" style="" >internal</text>
<text x="3528.4" y="1309.0" font-family='"Liberation Sans", sans-serif' font-size="24.4" textLength="55.8" lengthAdjust="spacingAndGlyphs" fill="#ccccdc" stroke="#ccccdc" stroke-width="0.3" style="" >2.7%</text>
<text x="3668.6" y="1309.0" font-family='"Liberation Sans", sans-serif' font-size="24.4" textLength="57.6" lengthAdjust="spacingAndGlyphs" fill="#ccccdc" stroke="#ccccdc" stroke-width="0.3" style="" >0.8%</text>
<rect x="133.6" y="1710.8" width="3626.6" height="588.2" fill="#181b1f" stroke="#2c2e34" stroke-width="2" rx="4" />
<text x="151.0" y="1753.4" font-family='"Liberation Sans", sans-serif' font-size="28.4" textLength="331.0" lengthAdjust="spacingAndGlyphs" fill="#ccccdc" stroke="#ccccdc" stroke-width="0.6" style="" >Wait Stats (by Category)</text>
<path d="M260.3,1807.5 H3182.2 M260.3,1869.5 H3182.2 M264.5,1807 V1900 M507.5,1807 V1900 M751.5,1807 V1900 M995.5,1807 V1900 M1238.5,1807 V1900 M1482.5,1807 V1900 M1725.5,1807 V1900 M1969.5,1807 V1900 M2212.5,1807 V1900 M2456.5,1807 V1900 M2699.5,1807 V1900 M2943.5,1807 V1900" fill="none" stroke="rgba(204,204,220,0.115)" stroke-width="1.15"/>
<text x="158.9" y="1814.3" font-family='"Liberation Sans", sans-serif' font-size="24.4" textLength="89.7" lengthAdjust="spacingAndGlyphs" fill="#ccccdc" stroke="#ccccdc" stroke-width="0.3" style="" >23 mins</text>
<text x="158.9" y="1876.4" font-family='"Liberation Sans", sans-serif' font-size="24.4" textLength="89.7" lengthAdjust="spacingAndGlyphs" fill="#ccccdc" stroke="#ccccdc" stroke-width="0.3" style="" >20 mins</text>
<path d="M2979.2,1890 L2990.9,1868 L2997.1,1890 Z" fill="#7a7f8c" stroke="#73b2e8" stroke-width="2" stroke-linejoin="round"/>
<path d="M2984.5,1890 L2990.6,1875.5 L2994.2,1890 Z" fill="#7eb26d"/>
<path d="M2987,1890 L2990.8,1882 L2993,1890 Z" fill="#e0752d"/>
<text x="3260.7" y="1822.3" font-family='"Liberation Sans", sans-serif' font-size="24.4" textLength="66.5" lengthAdjust="spacingAndGlyphs" fill="#6e9fff" stroke="#6e9fff" stroke-width="0.6" style="" >Name</text>
<text x="3521.8" y="1822.3" font-family='"Liberation Sans", sans-serif' font-size="24.4" textLength="63.2" lengthAdjust="spacingAndGlyphs" fill="#6e9fff" stroke="#6e9fff" stroke-width="0.6" style="" >Mean</text>
<polyline points="3593.3,1813.1 3598.0,1817.9 3602.7,1813.1" fill="none" stroke="#6e9fff" stroke-width="2.2" stroke-linecap="round" stroke-linejoin="round"/>
<text x="3678.8" y="1822.3" font-family='"Liberation Sans", sans-serif' font-size="24.4" textLength="47.8" lengthAdjust="spacingAndGlyphs" fill="#6e9fff" stroke="#6e9fff" stroke-width="0.6" style="" >Max</text>
<line x1="3200.5" y1="1838.0" x2="3744.0" y2="1838.0" stroke="#2b2d33" stroke-width="2" />
<line x1="3200.5" y1="1884.6" x2="3744.0" y2="1884.6" stroke="#2b2d33" stroke-width="2" />
<rect x="3216.2" y="1857.8" width="27.9" height="8.4" fill="#e0832d" rx="4.2" />
<text x="3260.7" y="1870.7" font-family='"Liberation Sans", sans-serif' font-size="24.4" textLength="123.0" lengthAdjust="spacingAndGlyphs" fill="#ccccdc" stroke="#ccccdc" stroke-width="0.3" style="" >Parallelism</text>
<text x="3526.4" y="1870.7" font-family='"Liberation Sans", sans-serif' font-size="24.4" textLength="75.2" lengthAdjust="spacingAndGlyphs" fill="#ccccdc" stroke="#ccccdc" stroke-width="0.3" style="" >5 mins</text>
<text x="3642.1" y="1870.7" font-family='"Liberation Sans", sans-serif' font-size="24.4" textLength="85.0" lengthAdjust="spacingAndGlyphs" fill="#ccccdc" stroke="#ccccdc" stroke-width="0.3" style="" >17 mins</text>
</g>
<rect x="129.9" y="156.8" width="605.5" height="74.4" fill="none" stroke="#fcff5f" stroke-width="4.4" />
<rect x="2861.0" y="154.1" width="202.0" height="80.1" fill="none" stroke="#fcff5f" stroke-width="4.4" />
<rect x="3070.2" y="154.2" width="422.6" height="80.0" fill="none" stroke="#fcff5f" stroke-width="4.4" />
<rect x="3502.1" y="153.4" width="265.8" height="81.2" fill="none" stroke="#fcff5f" stroke-width="4.4" />
<rect x="130.0" y="413.7" width="3627.0" height="682.0" fill="none" stroke="#fcff5f" stroke-width="4.6" />
<rect x="3712.2" y="416.2" width="44.2" height="73.4" fill="none" stroke="#fcff5f" stroke-width="4.4" />
<rect x="286.0" y="606.9" width="327.0" height="176.2" fill="none" stroke="#fcff5f" stroke-width="4.4" />
<text x="994.0" y="202.5" font-family='"DejaVu Sans Condensed", "DejaVu Sans", sans-serif' font-size="35" textLength="202.8" lengthAdjust="spacingAndGlyphs" fill="#fcff5f" style="font-weight:bold;" stroke="#fcff5f" stroke-width="0.7" stroke-linejoin="round">Data filters</text>
<text x="2228.5" y="187.6" font-family='"DejaVu Sans Condensed", "DejaVu Sans", sans-serif' font-size="35" textLength="201.9" lengthAdjust="spacingAndGlyphs" fill="#fcff5f" style="font-weight:bold;" stroke="#fcff5f" stroke-width="0.7" stroke-linejoin="round">Quick links</text>
<text x="1443.6" y="235.0" font-family='"DejaVu Sans Condensed", "DejaVu Sans", sans-serif' font-size="35" textLength="98.7" lengthAdjust="spacingAndGlyphs" fill="#fcff5f" style="font-weight:bold;" stroke="#fcff5f" stroke-width="0.7" stroke-linejoin="round">Panel</text>
<text x="2996.0" y="320.9" font-family='"DejaVu Sans Condensed", "DejaVu Sans", sans-serif' font-size="35" textLength="215.4" lengthAdjust="spacingAndGlyphs" fill="#fcff5f" style="font-weight:bold;" stroke="#fcff5f" stroke-width="0.7" stroke-linejoin="round">Time picker</text>
<text x="3470.3" y="321.9" font-family='"DejaVu Sans Condensed", "DejaVu Sans", sans-serif' font-size="35" textLength="228.2" lengthAdjust="spacingAndGlyphs" fill="#fcff5f" style="font-weight:bold;" stroke="#fcff5f" stroke-width="0.7" stroke-linejoin="round">Auto refresh</text>
<text x="595.1" y="352.4" font-family='"DejaVu Sans Condensed", "DejaVu Sans", sans-serif' font-size="35" textLength="782.0" lengthAdjust="spacingAndGlyphs" fill="#fcff5f" style="font-weight:bold;" stroke="#fcff5f" stroke-width="0.7" stroke-linejoin="round">Expand / collapse rows (groups of panels)</text>
<text x="3264.2" y="461.8" font-family='"DejaVu Sans Condensed", "DejaVu Sans", sans-serif' font-size="35" textLength="215.6" lengthAdjust="spacingAndGlyphs" fill="#fcff5f" style="font-weight:bold;" stroke="#fcff5f" stroke-width="0.7" stroke-linejoin="round">Panel menu</text>
<text x="682.6" y="494.5" font-family='"DejaVu Sans Condensed", "DejaVu Sans", sans-serif' font-size="35" textLength="128.3" lengthAdjust="spacingAndGlyphs" fill="#fcff5f" style="font-weight:bold;" stroke="#fcff5f" stroke-width="0.7" stroke-linejoin="round">Tooltip</text>
<text x="682.6" y="539.5" font-family='"DejaVu Sans Condensed", "DejaVu Sans", sans-serif' font-size="35" textLength="122.9" lengthAdjust="spacingAndGlyphs" fill="#fcff5f" style="font-weight:bold;" stroke="#fcff5f" stroke-width="0.7" stroke-linejoin="round">legend</text>
<line x1="971.5" y1="189.5" x2="766.4" y2="189.5" stroke="#fcff5f" stroke-width="6" stroke-linecap="round"/>
<polygon points="745.1,189.5 768.4,181.7 768.4,197.3" fill="#fcff5f"/>
<line x1="2440.5" y1="177.8" x2="2825.6" y2="177.8" stroke="#fcff5f" stroke-width="3.6" stroke-linecap="round"/>
<polygon points="2846.2,177.8 2823.6,184.8 2823.6,170.8" fill="#fcff5f"/>
<line x1="1490.1" y1="243.2" x2="1490.1" y2="388.1" stroke="#fcff5f" stroke-width="4" stroke-linecap="round"/>
<polygon points="1490.1,409.1 1480.3,386.1 1499.9,386.1" fill="#fcff5f"/>
<line x1="3145.3" y1="282.7" x2="3167.9" y2="256.4" stroke="#fcff5f" stroke-width="4.6" stroke-linecap="round"/>
<polygon points="3182.2,239.7 3173.0,263.4 3160.1,252.4" fill="#fcff5f"/>
<line x1="3575.9" y1="282.7" x2="3598.6" y2="257.1" stroke="#fcff5f" stroke-width="4.6" stroke-linecap="round"/>
<polygon points="3613.2,240.7 3603.6,264.3 3590.9,253.0" fill="#fcff5f"/>
<line x1="581.9" y1="332.0" x2="424.3" y2="301.0" stroke="#fcff5f" stroke-width="5" stroke-linecap="round"/>
<polygon points="402.7,296.7 427.9,293.0 424.6,309.7" fill="#fcff5f"/>
<line x1="580.6" y1="345.4" x2="480.6" y2="365.6" stroke="#fcff5f" stroke-width="5" stroke-linecap="round"/>
<polygon points="459.0,369.9 480.8,356.8 484.2,373.5" fill="#fcff5f"/>
<line x1="3489.5" y1="450.4" x2="3690.1" y2="450.4" stroke="#fcff5f" stroke-width="5" stroke-linecap="round"/>
<polygon points="3709.9,450.4 3688.1,460.4 3688.1,440.4" fill="#fcff5f"/>
<line x1="674.0" y1="529.2" x2="628.7" y2="585.8" stroke="#fcff5f" stroke-width="4.6" stroke-linecap="round"/>
<polygon points="614.9,603.0 622.9,578.6 636.9,589.9" fill="#fcff5f"/>
</g>
</svg>
</body></html>
